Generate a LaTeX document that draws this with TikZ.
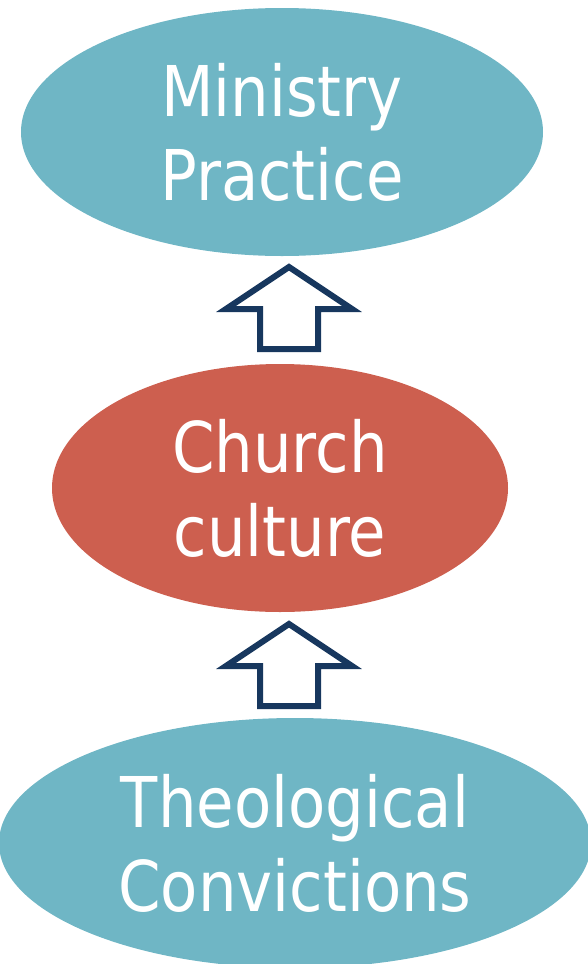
\documentclass[tikz,border=0pt]{standalone}
\usepackage{fontspec}
\setmainfont{DejaVu Sans}[FakeStretch=0.87]
\usetikzlibrary{shapes.geometric}
\definecolor{teal}{HTML}{6FB6C5}
\definecolor{brick}{HTML}{CD5F4F}
\definecolor{navy}{HTML}{17375E}
\begin{document}
\begin{tikzpicture}[x=1pt,y=-1pt,
  oval/.style={ellipse, draw=none, inner sep=0pt, text=white, align=center,
    font=\fontsize{70}{84}\selectfont},
  blockarrow/.style={draw=navy, line width=6pt, fill=white, miter limit=10}]
\useasboundingbox (0,0) rectangle (588,964);
\node[oval, fill=teal, minimum width=522pt, minimum height=248pt] (mp) at (282,132) {Ministry\\Practice};
\node[oval, fill=brick, minimum width=456pt, minimum height=248pt] (cc) at (280,488) {Church\\culture};
\node[oval, fill=teal, minimum width=592pt, minimum height=250pt] (tc) at (295,843) {Theological\\Convictions};
\coordinate (a1) at (289,267);
\coordinate (a2) at (289,624);
\draw[blockarrow] (a1) -- ++(63,42) -- ++(-34,0) -- ++(0,40) -- ++(-58,0) -- ++(0,-40) -- ++(-34,0) -- cycle;
\draw[blockarrow] (a2) -- ++(63,42) -- ++(-34,0) -- ++(0,40) -- ++(-58,0) -- ++(0,-40) -- ++(-34,0) -- cycle;
\end{tikzpicture}
\end{document}
